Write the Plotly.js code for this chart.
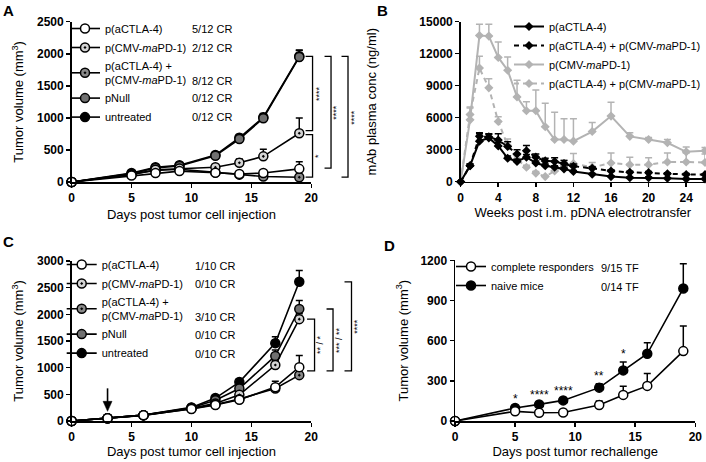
<!DOCTYPE html>
<html><head><meta charset="utf-8">
<script src="https://cdn.plot.ly/plotly-3.0.1.min.js"></script>
<style>html,body{margin:0;padding:0;background:#fff}#chart{width:706px;height:462px}</style>
</head><body><div id="chart"></div>
<script>
// ---------- Panel A ----------
const daysA = [0, 5, 7, 9, 12, 14, 16, 19];
const A_aCTLA4 = [0, 100, 140, 170, 145, 125, 140, 205];
const A_aCTLA4_err = [0, 0, 10, 15, 10, 20, 40, 110];
const A_pCMV = [0, 115, 190, 210, 230, 300, 400, 760];
const A_pCMV_err = [0, 10, 15, 20, 25, 60, 110, 240];
const A_combo = [0, 120, 180, 200, 150, 115, 85, 75];
const A_combo_err = [0, 10, 15, 20, 20, 20, 15, 15];
const A_pNull = [0, 130, 220, 250, 410, 670, 995, 1950];
const A_pNull_err = [0, 15, 20, 25, 30, 40, 60, 100];
const A_untreated = [0, 140, 230, 260, 420, 690, 1010, 1960];
const A_untreated_err = [0, 15, 25, 30, 35, 50, 60, 100];
const A_CR = ["5/12 CR", "2/12 CR", "8/12 CR", "0/12 CR", "0/12 CR"];

// ---------- Panel B ----------
const weeksB = [0, 1, 2, 3, 4, 5, 6, 7, 8, 9, 10, 11, 12, 14, 16, 18, 20, 22, 24, 26];
const B_aCTLA4 = [0, 1500, 3800, 4100, 3350, 2200, 1900, 2300, 1750, 1500, 1350, 1200, 950, 700, 480, 380, 370, 320, 260, 250];
const B_aCTLA4_err = [0, 150, 700, 350, 300, 200, 200, 250, 200, 150, 150, 150, 100, 80, 80, 60, 60, 60, 50, 50];
const B_comboBlack = [0, 1500, 4250, 4200, 3900, 3300, 2600, 2900, 2300, 1950, 1900, 1700, 1450, 1250, 1000, 880, 850, 750, 680, 660];
const B_comboBlack_err = [0, 150, 350, 300, 600, 450, 400, 500, 300, 250, 350, 280, 200, 150, 120, 100, 100, 100, 80, 80];
const B_pCMV = [0, 5800, 13700, 13650, 11650, 10450, 7950, 6650, 6650, 5150, 3950, 3950, 3800, 4700, 6150, 4250, 3950, 3650, 2800, 2900];
const B_pCMV_err = [0, 1100, 1050, 1100, 1450, 1250, 1550, 850, 1950, 2200, 2550, 1950, 2100, 850, 1300, 350, 200, 300, 450, 300];
const B_comboGrey = [0, 6300, 10650, 8800, 5650, 3400, 2100, 1350, 800, 480, 1000, 1500, 1700, 1350, 1750, 1600, 1600, 1850, 1850, 1800];
const B_comboGrey_err = [0, 700, 1100, 850, 450, 600, 350, 200, 150, 100, 300, 500, 950, 450, 950, 700, 650, 850, 850, 800];

// ---------- Panel C ----------
const daysC = [0, 3, 6, 10, 12, 14, 17, 19];
const C_aCTLA4 = [0, 50, 110, 225, 300, 400, 635, 1010];
const C_aCTLA4_err = [0, 5, 10, 20, 25, 40, 110, 220];
const C_pCMV = [0, 50, 110, 240, 330, 490, 1050, 1910];
const C_pCMV_err = [0, 5, 10, 20, 30, 50, 80, 100];
const C_combo = [0, 50, 105, 230, 310, 410, 610, 860];
const C_combo_err = [0, 5, 10, 20, 25, 35, 50, 50];
const C_pNull = [0, 50, 110, 250, 390, 610, 1220, 2100];
const C_pNull_err = [0, 5, 10, 20, 30, 60, 110, 160];
const C_untreated = [0, 50, 110, 255, 430, 730, 1460, 2610];
const C_untreated_err = [0, 5, 10, 20, 40, 60, 120, 210];
const C_CR = ["1/10 CR", "0/10 CR", "3/10 CR", "0/10 CR", "0/10 CR"];
const C_treatDay = 3;

// ---------- Panel D ----------
const daysD = [0, 5, 7, 9, 12, 14, 16, 19];
const D_complete = [0, 72, 62, 63, 120, 195, 262, 522];
const D_complete_err = [0, 10, 10, 10, 30, 65, 92, 188];
const D_naive = [0, 97, 124, 154, 249, 378, 502, 990];
const D_naive_err = [0, 10, 10, 10, 30, 62, 82, 185];
const D_TF = ["9/15 TF", "0/14 TF"];
const D_sig = ["*", "****", "****", "**", "*"];
const D_sigDays = [5, 7, 9, 12, 14];

// ---------- layout helpers ----------
const W = 706, H = 462;
const px = x => x / W;
const py = y => 1 - y / H;
const FONT = "Liberation Sans, Arial, sans-serif";
const zeros = n => new Array(n).fill(0);

const dom = {
  A: {x: [px(71.7), px(311.7)], y: [py(182), py(21.7)], xr: [0, 20], yr: [0, 2500]},
  B: {x: [px(461.3), 1], y: [py(181.7), py(21.7)], xr: [0, 26], yr: [0, 15000]},
  C: {x: [px(71.7), px(311.7)], y: [py(421), py(261)], xr: [0, 20], yr: [0, 3000]},
  D: {x: [px(455.7), px(696.3)], y: [py(421), py(260.3)], xr: [0, 20], yr: [0, 1200]}
};
const yPaper = (p, v) => { const d = dom[p]; return d.y[0] + (v - d.yr[0]) / (d.yr[1] - d.yr[0]) * (d.y[1] - d.y[0]); };
const xPaper = (p, v) => { const d = dom[p]; return d.x[0] + (v - d.xr[0]) / (d.xr[1] - d.xr[0]) * (d.x[1] - d.x[0]); };

function errObj(arr, color) {
  return {type: 'data', symmetric: false, array: arr, arrayminus: zeros(arr.length),
          color: color, thickness: 1.5, width: 3.5};
}
function circTrace(x, y, err, name, fill, symbol, xa, ya, leg) {
  return {x: x, y: y, name: name, type: 'scatter', mode: 'lines+markers', xaxis: xa, yaxis: ya, legend: leg,
    line: {color: '#000', width: 1.6},
    marker: {symbol: symbol, size: 9, color: fill, line: {color: '#000', width: 1.5}},
    error_y: errObj(err, '#000'), cliponaxis: false};
}
const nmA = ["p(aCTLA-4)", "p(CMV-<i>ma</i>PD-1)", "p(aCTLA-4) +<br>p(CMV-<i>ma</i>PD-1)", "pNull", "untreated"];

const traces = [];
// A (added in reverse so open circles are on top)
traces.push(circTrace(daysA, A_untreated, A_untreated_err, nmA[4], '#000000', 'circle', 'x', 'y', 'legend'));
traces.push(circTrace(daysA, A_pNull, A_pNull_err, nmA[3], '#707070', 'circle', 'x', 'y', 'legend'));
traces.push(circTrace(daysA, A_combo, A_combo_err, nmA[2], '#8a8a8a', 'circle-dot', 'x', 'y', 'legend'));
traces.push(circTrace(daysA, A_pCMV, A_pCMV_err, nmA[1], '#d4d4d4', 'circle-dot', 'x', 'y', 'legend'));
traces.push(circTrace(daysA, A_aCTLA4, A_aCTLA4_err, nmA[0], '#ffffff', 'circle', 'x', 'y', 'legend'));

// B
const GREY = '#b3b3b3';
function diaTrace(y, err, name, color, dash) {
  return {x: weeksB, y: y, name: name, type: 'scatter', mode: 'lines+markers', xaxis: 'x2', yaxis: 'y2', legend: 'legend2',
    line: {color: color, width: 2, dash: dash},
    marker: {symbol: 'diamond', size: 7, color: color, line: {width: 0}},
    error_y: errObj(err, color), cliponaxis: false};
}
traces.push(diaTrace(B_comboGrey, B_comboGrey_err, "p(aCTLA-4) + p(CMV-<i>ma</i>PD-1)", GREY, '5px,4px'));
traces.push(diaTrace(B_pCMV, B_pCMV_err, "p(CMV-<i>ma</i>PD-1)", GREY, 'solid'));
traces.push(diaTrace(B_comboBlack, B_comboBlack_err, "p(aCTLA-4) + p(CMV-<i>ma</i>PD-1)", '#000', '5px,4px'));
traces.push(diaTrace(B_aCTLA4, B_aCTLA4_err, "p(aCTLA-4)", '#000', 'solid'));

// C
traces.push(circTrace(daysC, C_untreated, C_untreated_err, nmA[4], '#000000', 'circle', 'x3', 'y3', 'legend3'));
traces.push(circTrace(daysC, C_pNull, C_pNull_err, nmA[3], '#707070', 'circle', 'x3', 'y3', 'legend3'));
traces.push(circTrace(daysC, C_pCMV, C_pCMV_err, nmA[1], '#d4d4d4', 'circle-dot', 'x3', 'y3', 'legend3'));
traces.push(circTrace(daysC, C_combo, C_combo_err, nmA[2], '#8a8a8a', 'circle-dot', 'x3', 'y3', 'legend3'));
traces.push(circTrace(daysC, C_aCTLA4, C_aCTLA4_err, nmA[0], '#ffffff', 'circle', 'x3', 'y3', 'legend3'));

// D
traces.push(circTrace(daysD, D_naive, D_naive_err, "naive mice", '#000000', 'circle', 'x4', 'y4', 'legend4'));
traces.push(circTrace(daysD, D_complete, D_complete_err, "complete responders", '#ffffff', 'circle', 'x4', 'y4', 'legend4'));

// legend ranks
function setRanks(names, legend) {
  traces.filter(t => t.legend === legend).forEach(t => {
    const i = names.indexOf(t.name); if (i >= 0) t.legendrank = i + 1;
  });
}
setRanks(nmA, 'legend'); setRanks(nmA, 'legend3');
setRanks(["complete responders", "naive mice"], 'legend4');
traces.filter(t => t.legend === 'legend2').forEach((t, i) => { t.legendrank = 4 - i; });

// axes
function axis(p, isX, tickvals, title, standoff) {
  const d = dom[p];
  return {domain: isX ? d.x : d.y, range: isX ? d.xr : d.yr, tickvals: tickvals,
    showline: true, linecolor: '#000', linewidth: 1.5, mirror: false,
    ticks: 'outside', ticklen: 4, tickwidth: 1.5, tickcolor: '#000',
    showgrid: false, zeroline: false, fixedrange: true,
    exponentformat: 'none', separatethousands: false, tickformat: 'd',
    tickfont: {family: FONT, size: 12, weight: 'bold', color: '#000'},
    title: {text: title, font: {family: FONT, size: 13, color: '#000'}, standoff: standoff},
    automargin: false};
}
const tvDays = [0, 5, 10, 15, 20];
const legFont = {family: FONT, size: 11, color: '#000'};
const layout = {
  width: W, height: H, margin: {l: 0, r: 0, t: 0, b: 0}, paper_bgcolor: '#fff', plot_bgcolor: 'rgba(0,0,0,0)',
  showlegend: true, font: {family: FONT, color: '#000'},
  xaxis: Object.assign(axis('A', true, tvDays, 'Days post tumor cell injection', 6), {anchor: 'y'}),
  yaxis: Object.assign(axis('A', false, [0, 500, 1000, 1500, 2000, 2500], 'Tumor volume (mm<sup>3</sup>)', 10), {anchor: 'x'}),
  xaxis2: Object.assign(axis('B', true, [0, 4, 8, 12, 16, 20, 24], 'Weeks post i.m. pDNA electrotransfer', 0), {anchor: 'y2'}),
  yaxis2: Object.assign(axis('B', false, [0, 3000, 6000, 9000, 12000, 15000], 'mAb plasma conc (ng/ml)', 40), {anchor: 'x2'}),
  xaxis3: Object.assign(axis('C', true, tvDays, 'Days post tumor cell injection', 0), {anchor: 'y3'}),
  yaxis3: Object.assign(axis('C', false, [0, 500, 1000, 1500, 2000, 2500, 3000], 'Tumor volume (mm<sup>3</sup>)', 10), {anchor: 'x3'}),
  xaxis4: Object.assign(axis('D', true, tvDays, 'Days post tumor rechallenge', 0), {anchor: 'y4'}),
  yaxis4: Object.assign(axis('D', false, [0, 300, 600, 900, 1200], 'Tumor volume (mm<sup>3</sup>)', 9), {anchor: 'x4'}),
  legend:  {x: px(65), y: py(14), xanchor: 'left', yanchor: 'top', bgcolor: 'rgba(0,0,0,0)', font: legFont, traceorder: 'normal'},
  legend2: {x: px(510), y: py(12), xanchor: 'left', yanchor: 'top', bgcolor: 'rgba(0,0,0,0)', font: legFont, traceorder: 'normal'},
  legend3: {x: px(61.7), y: py(250), xanchor: 'left', yanchor: 'top', bgcolor: 'rgba(0,0,0,0)', font: legFont, traceorder: 'normal'},
  legend4: {x: px(451), y: py(252), xanchor: 'left', yanchor: 'top', bgcolor: 'rgba(0,0,0,0)', font: legFont, traceorder: 'normal'},
  shapes: [], annotations: []
};

// panel letters
[['A', 9, 10], ['B', 383, 10], ['C', 9, 241], ['D', 390, 246]].forEach(l => {
  layout.annotations.push({text: '<b>' + l[0] + '</b>', x: px(l[1]), y: py(l[2]), xref: 'paper', yref: 'paper',
    showarrow: false, xanchor: 'center', yanchor: 'middle', font: {family: FONT, size: 15, color: '#000'}});
});

// legend side text (CR / TF columns), aligned with the legend rows
function sideText(texts, xPix, rowsPix) {
  texts.forEach((t, i) => layout.annotations.push({text: t, x: px(xPix), y: py(rowsPix[i]), xref: 'paper', yref: 'paper',
    showarrow: false, xanchor: 'left', yanchor: 'middle', font: legFont}));
}
sideText(A_CR, 190, [29.5, 48, 80.5, 98.5, 117.5]);
sideText(C_CR, 193, [265.5, 284, 316.5, 334.5, 353.5]);
sideText(D_TF, 599.7, [268, 287]);

// significance brackets
function bracket(p, xPix, tickPix, v1, v2, label, labelX) {
  const x = px(xPix), xt = px(tickPix), y1 = yPaper(p, v1), y2 = yPaper(p, v2);
  layout.shapes.push({type: 'path', xref: 'paper', yref: 'paper',
    path: `M${xt},${y1} L${x},${y1} L${x},${y2} L${xt},${y2}`, line: {color: '#000', width: 1.3}});
  layout.annotations.push({text: label, x: px(labelX), y: (y1 + y2) / 2, xref: 'paper', yref: 'paper', textangle: -90,
    showarrow: false, xanchor: 'center', yanchor: 'middle', font: {family: FONT, size: 9, color: '#000'}});
}
bracket('A', 313, 306, A_untreated[7], 800, '****', 319);
bracket('A', 313, 306, 740, A_combo[7], '*', 318.5);
bracket('A', 331.5, 325, A_untreated[7], A_aCTLA4[7] + 10, '****', 337);
bracket('A', 348.5, 342, A_untreated[7], A_combo[7], '****', 354.5);
bracket('C', 315, 307.5, C_pCMV[7], 940, '** / *', 320.5);
bracket('C', 333.5, 327, C_pNull[7], 940, '*** / **', 339.5);
bracket('C', 352, 345, C_untreated[7], 940, '****', 358);

// arrow in C marking the treatment day (drawn as shapes, pixel offsets above the point)
(function () {
  const k = daysC.indexOf(C_treatDay);
  const xc = xPaper('C', C_treatDay);
  const yPt = yPaper('C', C_aCTLA4[k]);
  const tip = yPt + 7 / H, top = yPt + 30 / H, base = tip + 10 / H, hw = 4.5 / W;
  layout.shapes.push({type: 'line', xref: 'paper', yref: 'paper', x0: xc, x1: xc, y0: base - 1 / H, y1: top,
    line: {color: '#000', width: 1.6}});
  layout.shapes.push({type: 'path', xref: 'paper', yref: 'paper', fillcolor: '#000',
    path: `M${xc},${tip} L${xc - hw},${base} L${xc + hw},${base} Z`, line: {color: '#000', width: 0.5}});
})();

// significance stars in D
D_sigDays.forEach((d, i) => {
  const k = daysD.indexOf(d);
  layout.annotations.push({x: d, y: D_naive[k] + D_naive_err[k], xref: 'x4', yref: 'y4', text: D_sig[i],
    showarrow: false, yanchor: 'bottom', yshift: -1, font: {family: FONT, size: 12, color: '#000'}});
});

Plotly.newPlot('chart', traces, layout, {staticPlot: true, displayModeBar: false});
</script></body></html>
